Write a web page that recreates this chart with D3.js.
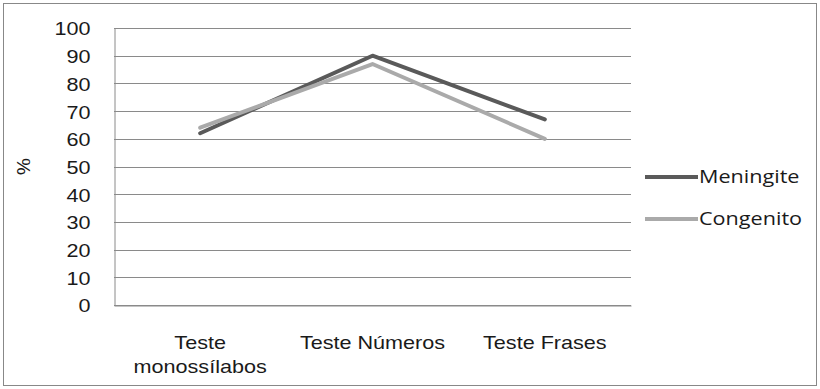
<!DOCTYPE html>
<html>
<head>
<meta charset="utf-8">
<script src="https://cdn.jsdelivr.net/npm/d3@7"></script>
<style>
  html, body { margin: 0; padding: 0; background: #fff; }
  svg { display: block; font-family: "Open Sans", "DejaVu Sans", sans-serif; }
</style>
</head>
<body>
<svg id="chart" width="820" height="389"></svg>
<script>
// Test categories, two series (percent correct), y ticks
const categories = [["Teste", "monossílabos"], ["Teste Números"], ["Teste Frases"]];
const seriesNames = ["Meningite", "Congenito"];
const meningite = [62, 90, 67];
const congenito = [64, 87, 60];
const yTicks = [0, 10, 20, 30, 40, 50, 60, 70, 80, 90, 100];
const colors = ["#5a5a5a", "#aaaaaa"];

const FONT_SIZE = 18;
const STRETCH = 1.2; // wide label lettering

const svg = d3.select("#chart");
const W = 820, H = 389;
const plot = { left: 114, right: 631, top: 28, bottom: 305 };

// places a horizontally widened text label at (px, py)
function label(parent, px, py, str, anchor, extra) {
  const g = parent.append("g")
    .attr("transform", `translate(${px},${py}) scale(${STRETCH},1)`);
  const t = g.append("text")
    .attr("text-anchor", anchor)
    .attr("font-size", FONT_SIZE)
    .attr("fill", "#1a1a1a")
    .text(str);
  if (extra) extra(t);
  return g;
}

// outer frame
svg.append("rect")
  .attr("x", 3.5).attr("y", 3.5)
  .attr("width", W - 7).attr("height", H - 7)
  .attr("fill", "#fff").attr("stroke", "#888").attr("stroke-width", 1);

const x = d3.scaleBand()
  .domain(categories.map((d, i) => i))
  .range([plot.left, plot.right]);

const y = d3.scaleLinear().domain([0, 100]).range([plot.bottom, plot.top]);

// horizontal gridlines
svg.append("g")
  .selectAll("line")
  .data(yTicks)
  .join("line")
  .attr("x1", plot.left).attr("x2", plot.right)
  .attr("y1", d => Math.round(y(d)) + 0.5).attr("y2", d => Math.round(y(d)) + 0.5)
  .attr("stroke", "#8a8a8a").attr("stroke-width", 1);

// y axis
const yAxis = svg.append("g")
  .attr("transform", `translate(${plot.left + 0.5},0.5)`)
  .call(d3.axisLeft(y).tickValues(yTicks).tickSize(0).tickFormat(""));
yAxis.select(".domain").attr("stroke", "#8a8a8a");
yAxis.selectAll(".tick").each(function(d) {
  label(d3.select(this), -24, 0, String(d), "end", t => t.attr("dy", "0.36em"));
});

// x axis (tick groups sit at band centres)
const xAxis = svg.append("g")
  .attr("transform", `translate(0,${Math.round(plot.bottom) + 0.5})`)
  .call(d3.axisBottom(x).tickSize(0).tickFormat(""));
xAxis.select(".domain").attr("stroke", "#8a8a8a");

xAxis.selectAll(".tick").each(function(d) {
  const tick = d3.select(this);
  categories[d].forEach((line, i) => {
    label(tick, 0, 43 + i * 24, line, "middle");
  });
});

// y axis title
svg.append("g")
  .attr("transform", `translate(30,${(plot.top + plot.bottom) / 2}) rotate(-90) scale(${STRETCH},1)`)
  .append("text")
  .attr("text-anchor", "middle")
  .attr("font-size", FONT_SIZE).attr("fill", "#1a1a1a")
  .text("%");

// series lines
const line = d3.line()
  .x((d, i) => x(i) + x.bandwidth() / 2)
  .y(d => y(d));

[meningite, congenito].forEach((vals, k) => {
  svg.append("path")
    .datum(vals)
    .attr("d", line)
    .attr("fill", "none")
    .attr("stroke", colors[k])
    .attr("stroke-width", 4)
    .attr("stroke-linejoin", "round")
    .attr("stroke-linecap", "round");
});

// legend
const legend = svg.append("g");
seriesNames.forEach((name, k) => {
  const ly = 177 + k * 42;
  legend.append("line")
    .attr("x1", 645).attr("x2", 698)
    .attr("y1", ly).attr("y2", ly)
    .attr("stroke", colors[k]).attr("stroke-width", 4);
  label(legend, 699, ly, name, "start", t => t.attr("dy", "0.36em"));
});
</script>
</body>
</html>
